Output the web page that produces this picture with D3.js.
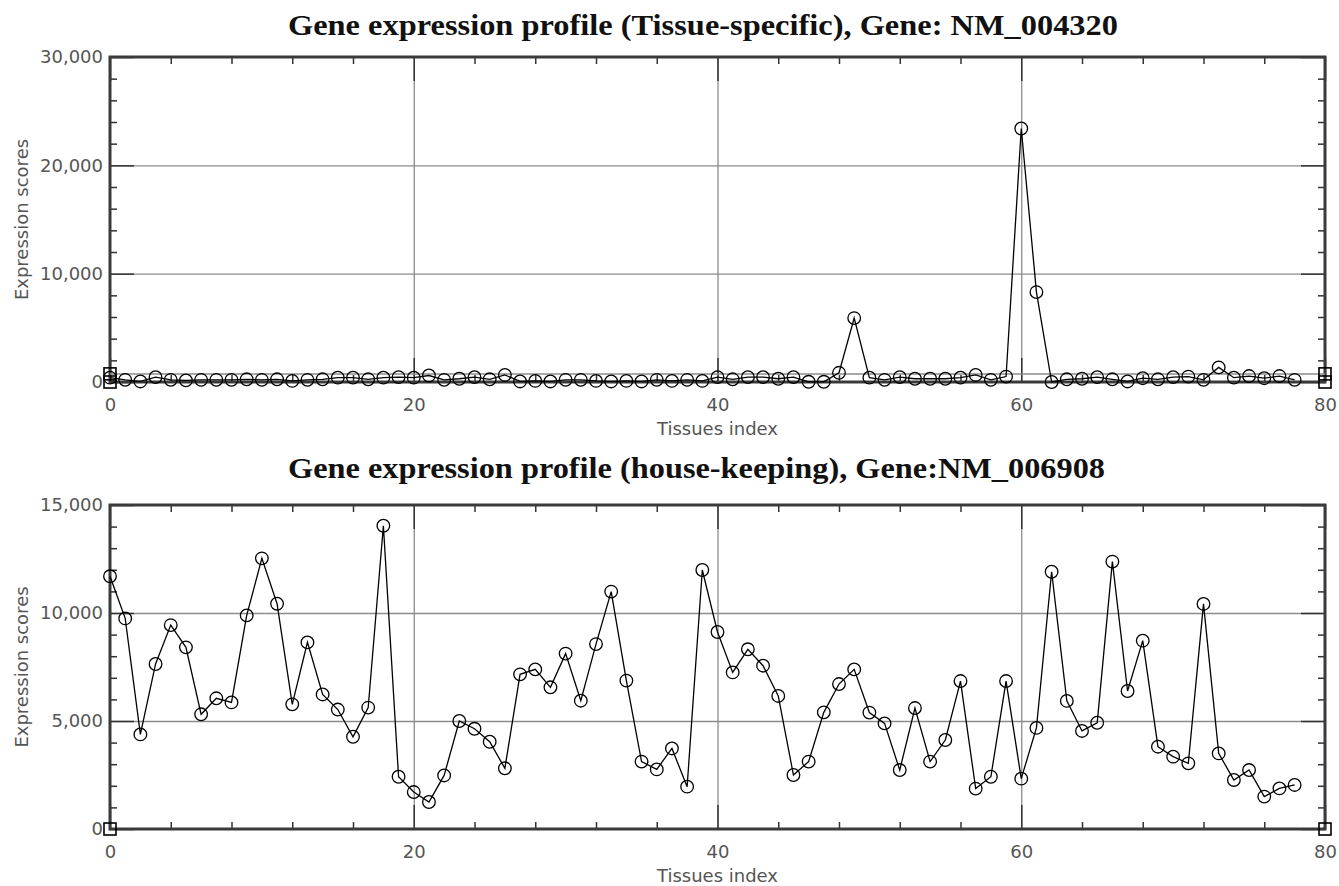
<!DOCTYPE html>
<html>
<head>
<meta charset="utf-8">
<script src="https://cdn.jsdelivr.net/npm/d3@7/dist/d3.min.js"></script>
<style>
  body { margin: 0; background: #fff; }
  .tick text { font-family: "DejaVu Sans", sans-serif; font-size: 18px; fill: #555; }
  .axisText { font-family: "DejaVu Sans", sans-serif; font-size: 18px; fill: #555; }
  .title { font-family: "Liberation Serif", serif; font-size: 29px; font-weight: bold; fill: #111; }
</style>
</head>
<body>
<div id="svg-area"></div>
<script>
var svgWidth = 1339;
var svgHeight = 886;

// tissue index 0..78
var tissues = d3.range(79);

// tissue-specific gene NM_004320
var specificScores = [
  400, 200, 50, 450, 200, 150, 200, 200, 200, 250,
  200, 250, 100, 200, 250, 400, 400, 250, 400, 450,
  400, 600, 200, 300, 450, 250, 650, 50, 100, 50,
  200, 200, 100, 50, 100, 50, 200, 100, 200, 100,
  450, 250, 450, 450, 300, 450, 20, 20, 850, 5900,
  400, 200, 450, 300, 300, 300, 400, 650, 200, 500,
  23400, 8300, 0, 250, 300, 450, 250, 50, 350, 250,
  450, 500, 200, 1350, 400, 550, 350, 550, 200
];

// house-keeping gene NM_006908
var housekeepingScores = [
  11700, 9750, 4380, 7640, 9440, 8410, 5310, 6050, 5860, 9890,
  12530, 10430, 5770, 8640, 6230, 5530, 4270, 5620, 14040, 2420,
  1710, 1250, 2480, 5000, 4640, 4040, 2810, 7160, 7390, 6560,
  8120, 5940, 8560, 10990, 6870, 3120, 2760, 3730, 1960, 11990,
  9120, 7250, 8320, 7560, 6160, 2500, 3120, 5400, 6710, 7390,
  5390, 4890, 2730, 5600, 3120, 4120, 6850, 1870, 2420, 6850,
  2330, 4680, 11910, 5930, 4540, 4920, 12380, 6390, 8720, 3810,
  3350, 3040, 10420, 3500, 2270, 2730, 1500, 1880, 2040
];

// reference lines drawn with square end markers
var refX = [0, 80];
var specificRefs = [750, 0];
var housekeepingRefs = [0];

var xMajor = [0, 20, 40, 60, 80];
var xMinor = [4, 8, 12, 16, 24, 28, 32, 36, 44, 48, 52, 56, 64, 68, 72, 76];
var specificYMajor = [0, 10000, 20000, 30000];
var specificYMinor = [2000, 4000, 6000, 8000, 12000, 14000, 16000, 18000, 22000, 24000, 26000, 28000];
var housekeepingYMajor = [0, 5000, 10000, 15000];
var housekeepingYMinor = [1000, 2000, 3000, 4000, 6000, 7000, 8000, 9000, 11000, 12000, 13000, 14000];

var svg = d3.select("#svg-area").append("svg")
  .attr("width", svgWidth)
  .attr("height", svgHeight);

var left = 110, right = 1325;
var xScale = d3.scaleLinear().domain([0, 80]).range([left, right]);

function drawPanel(p) {
  var yScale = d3.scaleLinear().domain([0, p.yMax]).range([p.bottom, p.top]);
  var h = p.bottom - p.top;
  var g = svg.append("g");

  // grid
  var gx = g.append("g")
    .attr("transform", `translate(0, ${p.bottom})`)
    .call(d3.axisBottom(xScale).tickValues(xMajor.slice(1, -1)).tickSize(-h).tickFormat(""));
  var gy = g.append("g")
    .attr("transform", `translate(${left}, 0)`)
    .call(d3.axisLeft(yScale).tickValues(p.yMajor.slice(1, -1)).tickSize(-(right - left)).tickFormat(""));
  [gx, gy].forEach(function(a) {
    a.select(".domain").remove();
    a.selectAll("line").attr("stroke", "#8c8c8c").attr("stroke-width", 1.3);
  });

  // inward ticks on all four sides
  function ticks(axis, tr, vals, size, fmt, pad) {
    var a = g.append("g").attr("transform", tr)
      .call(axis.tickValues(vals).tickSize(size).tickPadding(pad || 0).tickFormat(fmt || ""));
    a.select(".domain").remove();
    a.selectAll("line").attr("stroke", "#333").attr("stroke-width", 1.5);
    return a;
  }
  ticks(d3.axisLeft(yScale), `translate(${left},0)`, p.yMinor, -7);
  ticks(d3.axisLeft(yScale), `translate(${left},0)`, p.yMajor, -24, d3.format(","), 7);
  ticks(d3.axisRight(yScale), `translate(${right},0)`, p.yMinor, -7);
  ticks(d3.axisRight(yScale), `translate(${right},0)`, p.yMajor, -24);
  ticks(d3.axisBottom(xScale), `translate(0,${p.bottom})`, xMinor, -7);
  ticks(d3.axisBottom(xScale), `translate(0,${p.bottom})`, xMajor, -24, d3.format("d"), 16);
  ticks(d3.axisTop(xScale), `translate(0,${p.top})`, xMinor, -7);
  ticks(d3.axisTop(xScale), `translate(0,${p.top})`, xMajor, -24);

  // frame
  g.append("rect")
    .attr("x", left).attr("y", p.top)
    .attr("width", right - left).attr("height", h)
    .attr("fill", "none").attr("stroke", "#3a3a3a").attr("stroke-width", 3);

  // reference lines with square markers
  p.refs.forEach(function(v) {
    if (v > 0) {
      g.append("line")
        .attr("x1", xScale(refX[0])).attr("x2", xScale(refX[1]))
        .attr("y1", yScale(v)).attr("y2", yScale(v))
        .attr("stroke", "#8c8c8c").attr("stroke-width", 1.5);
    }
    g.selectAll(null).data(refX).enter().append("rect")
      .attr("x", d => xScale(d) - 6)
      .attr("y", yScale(v) - 6)
      .attr("width", 12).attr("height", 12)
      .attr("fill", "none").attr("stroke", "#000").attr("stroke-width", 1.6);
  });

  // series line
  var line = d3.line()
    .x((d, i) => xScale(tissues[i]))
    .y(d => yScale(d));
  g.append("path")
    .datum(p.values)
    .attr("d", line)
    .attr("fill", "none")
    .attr("stroke", "#000")
    .attr("stroke-width", 1.3);

  g.selectAll("circle").data(p.values).enter().append("circle")
    .attr("cx", (d, i) => xScale(tissues[i]))
    .attr("cy", d => yScale(d))
    .attr("r", 6.3)
    .attr("fill", "none")
    .attr("stroke", "#000")
    .attr("stroke-width", 1.3);

  // titles and axis labels
  svg.append("text")
    .attr("class", "title")
    .attr("x", p.titleX).attr("y", p.titleY)
    .attr("textLength", p.titleW)
    .attr("lengthAdjust", "spacingAndGlyphs")
    .text(p.title);

  svg.append("text")
    .attr("class", "axisText")
    .attr("x", (left + right) / 2).attr("y", p.bottom + 53)
    .attr("text-anchor", "middle")
    .text("Tissues index");

  svg.append("text")
    .attr("class", "axisText")
    .attr("transform", `translate(28, ${(p.top + p.bottom) / 2}) rotate(-90)`)
    .attr("text-anchor", "middle")
    .text("Expression scores");
}

drawPanel({
  top: 57, bottom: 382, yMax: 30000,
  yMajor: specificYMajor, yMinor: specificYMinor,
  values: specificScores, refs: specificRefs,
  titleX: 288, titleY: 35, titleW: 830,
  title: "Gene expression profile (Tissue-specific), Gene: NM_004320"
});

drawPanel({
  top: 505, bottom: 829, yMax: 15000,
  yMajor: housekeepingYMajor, yMinor: housekeepingYMinor,
  values: housekeepingScores, refs: housekeepingRefs,
  titleX: 288, titleY: 478, titleW: 817,
  title: "Gene expression profile (house-keeping), Gene:NM_006908"
});
</script>
</body>
</html>
